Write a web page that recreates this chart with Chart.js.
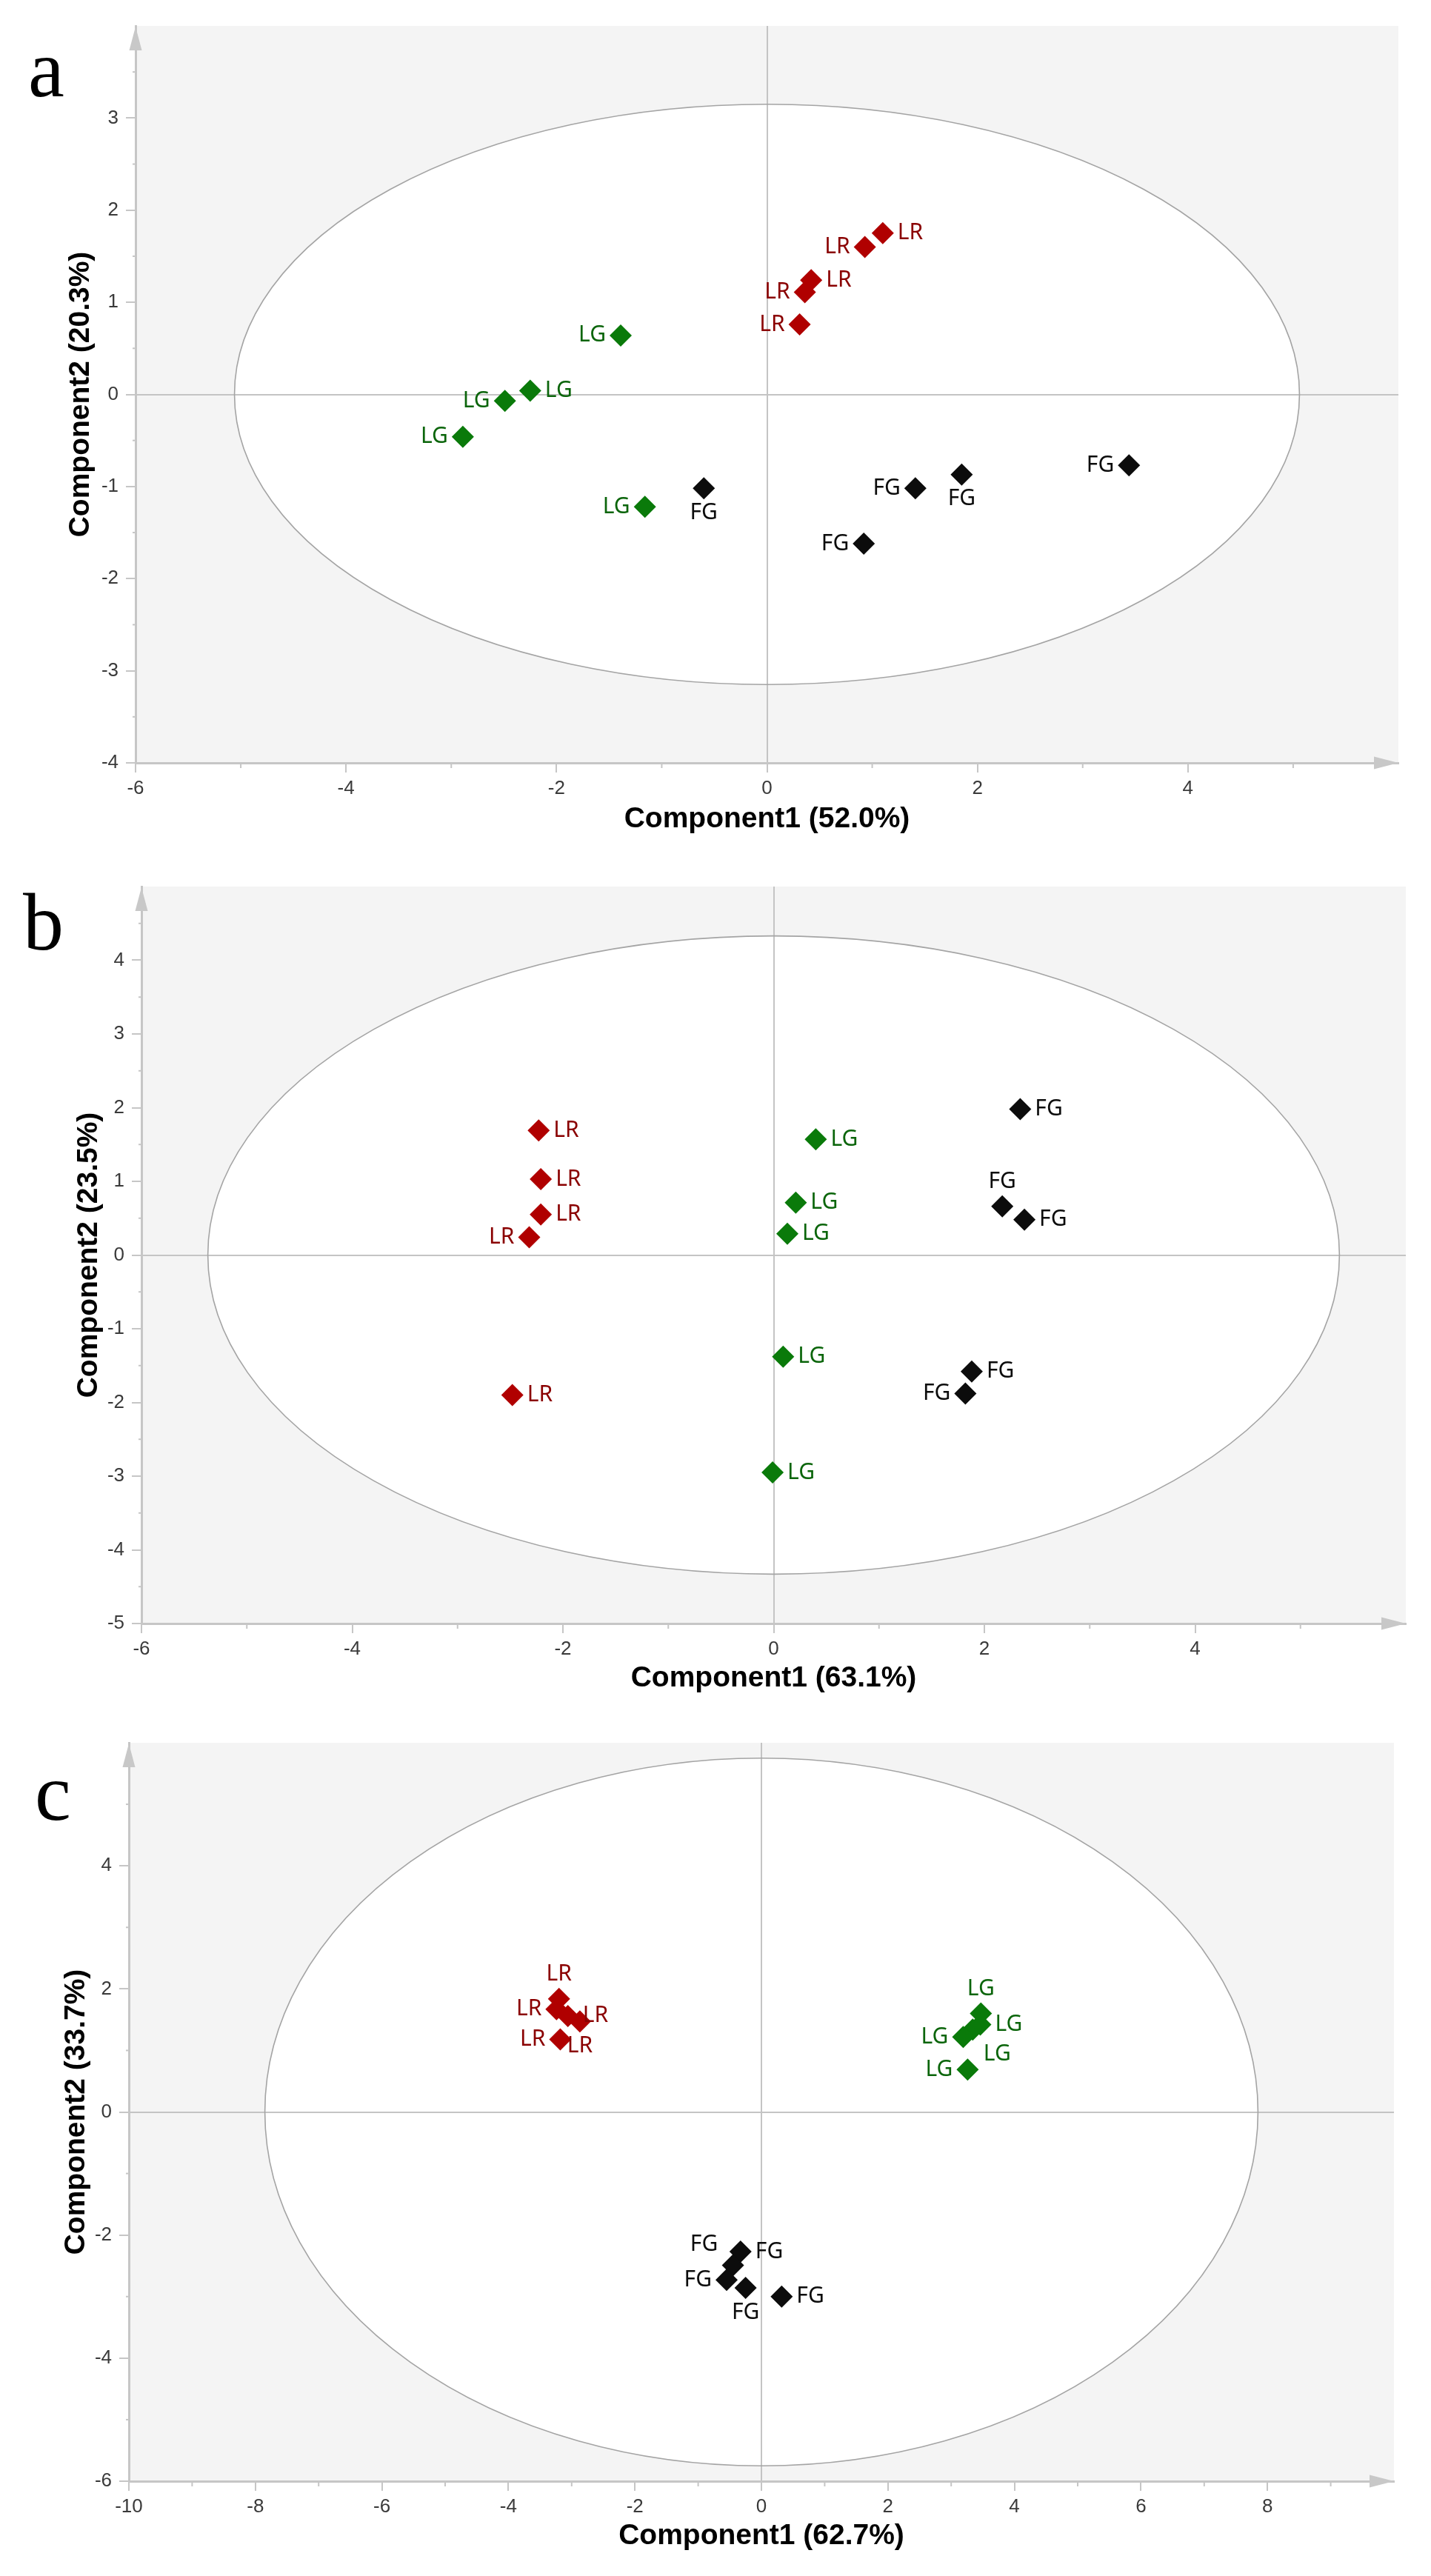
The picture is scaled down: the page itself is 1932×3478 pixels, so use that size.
<!DOCTYPE html>
<html>
<head>
<meta charset="utf-8">
<script src="https://cdn.jsdelivr.net/npm/chart.js@4.4.0/dist/chart.umd.min.js"></script>
<style>
  body { margin: 0; background: #fff; }
  .panel { position: absolute; left: 0; width: 1932px; }
</style>
</head>
<body>
<div class="panel" style="top:0;height:1160px"><canvas id="chartA"></canvas></div>
<div class="panel" style="top:1160px;height:1160px"><canvas id="chartB"></canvas></div>
<div class="panel" style="top:2320px;height:1158px"><canvas id="chartC"></canvas></div>
<script>
// groups, same order in every panel
const groupNames = ["LR", "LG", "FG"];

// panel a
const aLR = [[1.10, 1.75], [0.93, 1.60], [0.42, 1.24], [0.36, 1.11], [0.31, 0.76]];
const aLG = [[-1.39, 0.64], [-2.25, 0.04], [-2.49, -0.07], [-2.89, -0.46], [-1.16, -1.22]];
const aFG = [[-0.60, -1.02], [1.41, -1.02], [1.85, -0.87], [3.44, -0.77], [0.92, -1.62]];
const aLRSide = ["r", "l", "r", "l", "l"];
const aLGSide = ["l", "r", "l", "l", "l"];
const aFGSide = ["b", "l", "b", "l", "l"];
const aEllipse = [5.06, 3.15];
const aXRange = [-6, 6];
const aYRange = [-4, 4];
const aXTitle = "Component1 (52.0%)";
const aYTitle = "Component2 (20.3%)";

// panel b
const bLR = [[-2.23, 1.69], [-2.21, 1.03], [-2.21, 0.55], [-2.32, 0.24], [-2.48, -1.90]];
const bLG = [[0.40, 1.57], [0.21, 0.71], [0.13, 0.29], [0.09, -1.38], [-0.01, -2.95]];
const bFG = [[2.34, 1.98], [2.17, 0.66], [2.38, 0.48], [1.88, -1.58], [1.82, -1.88]];
const bLRSide = ["r", "r", "r", "l", "r"];
const bLGSide = ["r", "r", "r", "r", "r"];
const bFGSide = ["r", "t", "r", "r", "l"];
const bEllipse = [5.37, 4.33];
const bXRange = [-6, 6];
const bYRange = [-5, 5];
const bXTitle = "Component1 (63.1%)";
const bYTitle = "Component2 (23.5%)";

// panel c
const cLR = [[-3.20, 1.84], [-3.24, 1.67], [-3.06, 1.56], [-2.87, 1.47], [-3.18, 1.18]];
const cLG = [[3.47, 1.60], [3.46, 1.42], [3.34, 1.34], [3.19, 1.22], [3.26, 0.69]];
const cFG = [[-0.33, -2.27], [-0.45, -2.49], [-0.55, -2.73], [-0.25, -2.86], [0.32, -3.00]];
const cLRSide = ["t", "l", "r", "b", "l"];
const cLGSide = ["t", "r", "br", "l", "l"];
const cFGSide = ["r", "tl", "l", "b", "r"];
const cEllipse = [7.85, 5.75];
const cXRange = [-10, 10];
const cYRange = [-6, 6];
const cXTitle = "Component1 (62.7%)";
const cYTitle = "Component2 (33.7%)";

const markerColors = ["#b00000", "#0a7a0a", "#0c0c0c"];
const labelColors = ["#8a0000", "#0b650b", "#0c0c0c"];
const axisGray = "#c6c6c6";
const tickFont = { family: "'Liberation Sans Narrow', 'Liberation Sans', sans-serif", size: 26 };
const titleFont = { family: "'Liberation Sans', Arial, sans-serif", weight: "bold", size: 39 };

// background, ellipse, arrows, minor ticks, labels, panel letter
const pcaFrame = {
    id: "pcaFrame",
    beforeDraw(chart, args, o) {
        const { ctx, chartArea: ca, scales: { x, y } } = chart;
        ctx.save();
        ctx.fillStyle = "#f4f4f4";
        ctx.fillRect(ca.left, ca.top, ca.right - ca.left, ca.bottom - ca.top);
        const cx = x.getPixelForValue(0), cy = y.getPixelForValue(0);
        const rx = x.getPixelForValue(o.ellipse[0]) - cx;
        const ry = cy - y.getPixelForValue(o.ellipse[1]);
        ctx.beginPath();
        ctx.ellipse(cx, cy, rx, ry, 0, 0, Math.PI * 2);
        ctx.fillStyle = "#ffffff";
        ctx.fill();
        ctx.restore();
    },
    beforeDatasetsDraw(chart, args, o) {
        const { ctx, scales: { x, y } } = chart;
        const cx = x.getPixelForValue(0), cy = y.getPixelForValue(0);
        const rx = x.getPixelForValue(o.ellipse[0]) - cx;
        const ry = cy - y.getPixelForValue(o.ellipse[1]);
        ctx.save();
        ctx.beginPath();
        ctx.ellipse(cx, cy, rx, ry, 0, 0, Math.PI * 2);
        ctx.strokeStyle = "#a4a4a4";
        ctx.lineWidth = 1.6;
        ctx.stroke();
        ctx.restore();
    },
    afterDatasetsDraw(chart) {
        const ctx = chart.ctx;
        ctx.save();
        ctx.font = "30px 'Noto Sans', sans-serif";
        chart.data.datasets.forEach((ds, i) => {
            const meta = chart.getDatasetMeta(i);
            ctx.fillStyle = ds.labelColor;
            meta.data.forEach((el, j) => {
                const side = ds.sides[j];
                let tx = el.x, ty = el.y;
                ctx.textBaseline = "middle";
                if (side === "r") { ctx.textAlign = "left"; tx += 20; }
                else if (side === "l") { ctx.textAlign = "right"; tx -= 20; }
                else if (side === "t") { ctx.textAlign = "center"; ty -= 33; }
                else if (side === "b") { ctx.textAlign = "center"; ty += 33; }
                else if (side === "br") { ctx.textAlign = "center"; tx += 33; ty += 33; }
                else if (side === "tl") { ctx.textAlign = "center"; tx -= 39; ty -= 28; }
                ctx.fillText(ds.label, tx, ty);
            });
        });
        ctx.restore();
    },
    afterDraw(chart, args, o) {
        const { ctx, chartArea: ca, scales: { x, y } } = chart;
        ctx.save();
        // minor ticks
        ctx.strokeStyle = axisGray;
        ctx.lineWidth = 2;
        const nx = Math.round((x.max - x.min) / o.minor[0]);
        for (let k = 1; k < nx; k += 2) {
            const px = x.getPixelForValue(x.min + k * o.minor[0]);
            ctx.beginPath();
            ctx.moveTo(px, ca.bottom);
            ctx.lineTo(px, ca.bottom + 7);
            ctx.stroke();
        }
        const ny = Math.round((y.max - y.min) / o.minor[1]);
        for (let k = 1; k < ny; k += 2) {
            const py = y.getPixelForValue(y.min + k * o.minor[1]);
            ctx.beginPath();
            ctx.moveTo(ca.left - 4, py);
            ctx.lineTo(ca.left, py);
            ctx.stroke();
        }
        // arrow heads
        ctx.fillStyle = "#c8c8c8";
        ctx.beginPath();
        ctx.moveTo(ca.left, ca.top + 1);
        ctx.lineTo(ca.left - 8.5, ca.top + 33);
        ctx.lineTo(ca.left + 8.5, ca.top + 33);
        ctx.closePath();
        ctx.fill();
        ctx.beginPath();
        ctx.moveTo(ca.right, ca.bottom);
        ctx.lineTo(ca.right - 33, ca.bottom - 8.5);
        ctx.lineTo(ca.right - 33, ca.bottom + 8.5);
        ctx.closePath();
        ctx.fill();
        // panel letter
        ctx.fillStyle = "#000";
        ctx.font = "110px 'Liberation Serif', 'Times New Roman', serif";
        ctx.textAlign = "left";
        ctx.textBaseline = "alphabetic";
        ctx.fillText(o.letter, o.letterPos[0], o.letterPos[1]);
        ctx.restore();
    }
};

function buildPanel(id, p) {
    const datasets = groupNames.map((g, i) => ({
        label: g,
        data: p.points[i].map(([x, y]) => ({ x, y })),
        sides: p.sides[i],
        labelColor: labelColors[i],
        backgroundColor: markerColors[i],
        borderColor: markerColors[i],
        borderWidth: 0,
        pointStyle: "rectRot",
        pointRadius: 15,
        pointHoverRadius: 15,
        showLine: false
    }));

    const zeroGrid = (max) => ({
        color: (c) => (c.tick && c.tick.value === 0 ? "#c4c4c4" : "rgba(0,0,0,0)"),
        lineWidth: 2,
        tickLength: 13,
        tickWidth: 2,
        tickColor: (c) => (c.tick && c.tick.value === max ? "rgba(0,0,0,0)" : axisGray)
    });

    const ctx = document.getElementById(id).getContext("2d");
    return new Chart(ctx, {
        type: "scatter",
        data: { datasets },
        options: {
            responsive: true,
            maintainAspectRatio: false,
            animation: false,
            layout: { padding: { top: p.area.top, right: p.area.right, left: 0, bottom: 0 } },
            plugins: {
                legend: { display: false },
                tooltip: { enabled: false },
                pcaFrame: { ellipse: p.ellipse, minor: p.minor, letter: p.letter, letterPos: p.letterPos }
            },
            scales: {
                x: {
                    type: "linear",
                    position: "bottom",
                    min: p.xRange[0],
                    max: p.xRange[1],
                    grid: zeroGrid(p.xRange[1]),
                    border: { color: axisGray, width: 3 },
                    ticks: {
                        stepSize: p.major[0],
                        autoSkip: false,
                        maxRotation: 0,
                        padding: 6,
                        font: tickFont,
                        color: "#3a3a3a",
                        callback: (v) => (v === p.xRange[1] ? "" : String(v))
                    },
                    title: { display: true, text: p.xTitle, font: titleFont, color: "#000", padding: { top: 30, bottom: 30 } },
                    afterFit: (s) => { s.height = p.area.xh; }
                },
                y: {
                    type: "linear",
                    position: "left",
                    min: p.yRange[0],
                    max: p.yRange[1],
                    grid: zeroGrid(p.yRange[1]),
                    border: { color: axisGray, width: 3 },
                    ticks: {
                        stepSize: p.major[1],
                        autoSkip: false,
                        padding: 10,
                        font: tickFont,
                        color: "#3a3a3a",
                        callback: (v) => (v === p.yRange[1] ? "" : String(v))
                    },
                    title: { display: true, text: p.yTitle, font: titleFont, color: "#000", padding: { top: p.yTitlePad, bottom: p.yTitlePad } },
                    afterFit: (s) => { s.width = p.area.yw; }
                }
            }
        },
        plugins: [pcaFrame]
    });
}

buildPanel("chartA", {
    points: [aLR, aLG, aFG],
    sides: [aLRSide, aLGSide, aFGSide],
    ellipse: aEllipse,
    xRange: aXRange, yRange: aYRange,
    major: [2, 1], minor: [1, 0.5],
    xTitle: aXTitle, yTitle: aYTitle, yTitlePad: 86,
    area: { top: 35, right: 44, yw: 183, xh: 130 },
    letter: "a", letterPos: [38, 130]
});

buildPanel("chartB", {
    points: [bLR, bLG, bFG],
    sides: [bLRSide, bLGSide, bFGSide],
    ellipse: bEllipse,
    xRange: bXRange, yRange: bYRange,
    major: [2, 1], minor: [1, 0.5],
    xTitle: bXTitle, yTitle: bYTitle, yTitlePad: 97,
    area: { top: 37, right: 34, yw: 191, xh: 128 },
    letter: "b", letterPos: [31, 122]
});

buildPanel("chartC", {
    points: [cLR, cLG, cFG],
    sides: [cLRSide, cLGSide, cFGSide],
    ellipse: cEllipse,
    xRange: cXRange, yRange: cYRange,
    major: [2, 2], minor: [1, 1],
    xTitle: cXTitle, yTitle: cYTitle, yTitlePad: 80,
    area: { top: 33, right: 50, yw: 174, xh: 128 },
    letter: "c", letterPos: [47, 137]
});
</script>
</body>
</html>
